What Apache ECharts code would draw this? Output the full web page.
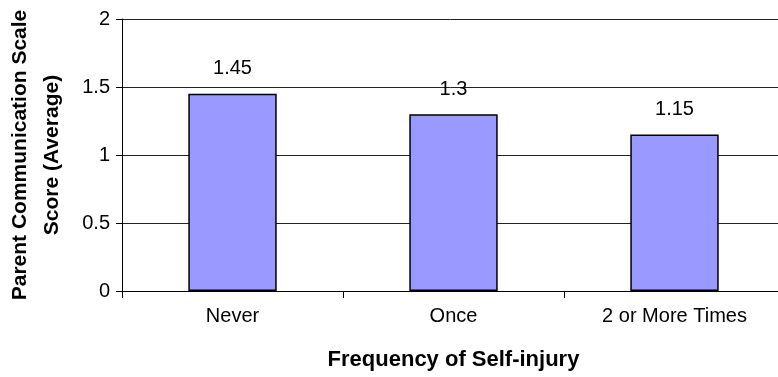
<!DOCTYPE html>
<html>
<head>
<meta charset="utf-8">
<script src="https://cdn.jsdelivr.net/npm/echarts@6/dist/echarts.min.js"></script>
<style>
  html, body { margin: 0; padding: 0; background: #fff; }
  #chart { width: 778px; height: 377px; }
</style>
</head>
<body>
<div id="chart"></div>
<script>
// Average parent communication score by self-injury frequency
const categories = ['Never', 'Once', '2 or More Times'];
const scores = [1.45, 1.3, 1.15];
const yTicks = { min: 0, max: 2, interval: 0.5 };
const xTitle = 'Frequency of Self-injury';
const yTitle = 'Parent Communication Scale\nScore (Average)';

const FONT = '"Liberation Sans", Arial, sans-serif';

const chart = echarts.init(document.getElementById('chart'), null, { renderer: 'canvas' });
chart.setOption({
  animation: false,
  backgroundColor: '#ffffff',
  grid: {
    left: 122, right: -7, top: 19, bottom: 86,
    containLabel: false,
    outerBoundsMode: 'none'
  },
  xAxis: {
    type: 'category',
    data: categories,
    name: xTitle,
    nameLocation: 'middle',
    nameGap: 58,
    nameTextStyle: {
      fontFamily: FONT, fontSize: 22, fontWeight: 'bold', color: '#000'
    },
    axisLine: { lineStyle: { color: '#000', width: 1 } },
    axisTick: { show: true, alignWithLabel: false, length: 7, lineStyle: { color: '#000' } },
    axisLabel: { fontFamily: FONT, fontSize: 20, color: '#000', margin: 15 },
    splitLine: { show: false }
  },
  yAxis: {
    type: 'value',
    min: yTicks.min,
    max: yTicks.max,
    interval: yTicks.interval,
    name: yTitle,
    nameLocation: 'middle',
    nameRotate: 90,
    nameGap: 54,
    nameTextStyle: {
      fontFamily: FONT, fontSize: 21, fontWeight: 'bold', color: '#000',
      lineHeight: 32, align: 'center'
    },
    axisLine: { show: true, lineStyle: { color: '#000', width: 1 } },
    axisTick: { show: true, length: 6, lineStyle: { color: '#000' } },
    axisLabel: { fontFamily: FONT, fontSize: 20, color: '#000', margin: 12 },
    splitLine: { show: true, lineStyle: { color: '#222', width: 1 } }
  },
  series: [{
    type: 'bar',
    data: scores,
    barWidth: '40%',
    itemStyle: { color: '#9999ff', borderColor: '#000', borderWidth: 1.5 },
    label: {
      show: true,
      position: 'top',
      distance: 15,
      fontFamily: FONT,
      fontSize: 20,
      color: '#000'
    }
  }]
});
</script>
</body>
</html>
